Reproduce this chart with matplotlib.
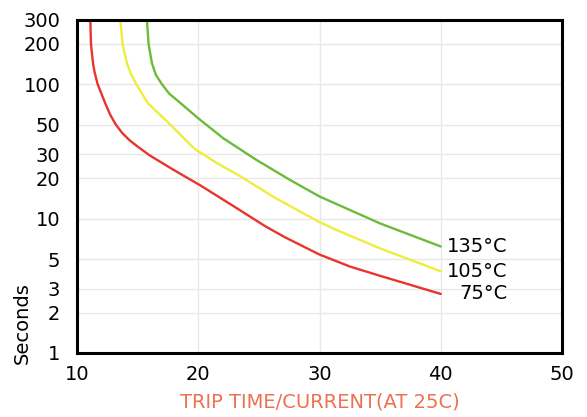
import matplotlib.pyplot as plt

# trip curves (x = current multiple, y = seconds)
red_x = [11.1, 11.15, 11.32, 11.45, 11.7, 12.33, 12.75, 13.2, 13.7, 14.3, 15.0, 16.0, 17.8, 19.3, 20.2,
         23.4, 25.5, 27.1, 30.0, 32.5, 35.0, 40.0]
red_y = [300, 200, 143, 123, 100, 72, 58.9, 50.1, 43.6, 38.5, 34.3, 29.5, 23.5, 19.6, 17.6,
         11.6, 8.8, 7.3, 5.4, 4.4, 3.75, 2.75]

yellow_x = [13.57, 13.76, 13.9, 14.12, 14.45, 14.89, 15.85, 17.7, 19.2, 19.8, 20.3, 21.5, 23.3, 26.2,
            30.0, 31.7, 35.0, 40.0]
yellow_y = [300, 200, 174, 143, 119, 100, 72, 50, 36.5, 32.5, 30.5, 26, 21.1, 14.5,
            9.4, 8.0, 6.0, 4.05]

green_x = [15.77, 15.9, 16.18, 16.5, 17.0, 17.6, 18.4, 20.0, 22.06, 24.8, 27.56, 30.0, 35.0, 40.0]
green_y = [300, 200, 143, 117.5, 100, 85, 74, 55.7, 39.6, 27.3, 19.4, 14.6, 9.2, 6.2]

labels = ['75°C', '105°C', '135°C']
y_ticks = [1, 2, 3, 5, 10, 20, 30, 50, 100, 200, 300]
x_ticks = [10, 20, 30, 40, 50]

fig = plt.figure(figsize=(5.87, 4.17), dpi=100)
ax = fig.add_axes([77 / 587, 1 - 353 / 417, (562 - 77) / 587, (353 - 20) / 417])

ax.plot(red_x, red_y, color='#e8352c', lw=1.7, solid_capstyle='round', solid_joinstyle='round')
ax.plot(yellow_x, yellow_y, color='#eeee3a', lw=1.7, solid_capstyle='round', solid_joinstyle='round')
ax.plot(green_x, green_y, color='#6cbb3a', lw=1.7, solid_capstyle='round', solid_joinstyle='round')

ax.set_yscale('log')
ax.set_xlim(10, 50)
ax.set_ylim(1, 300)
ax.set_yticks(y_ticks)
ax.set_yticklabels([str(t) for t in y_ticks])
ax.yaxis.set_minor_locator(plt.NullLocator())
ax.set_xticks(x_ticks)
ax.tick_params(length=0, labelsize=14)
ax.tick_params(axis='x', pad=9)
ax.tick_params(axis='y', pad=12)

ax.grid(True, color='#e8e8e8', lw=1)
ax.set_axisbelow(True)
for s in ax.spines.values():
    s.set_linewidth(2.2)
    s.set_color('black')

# curve labels at the right ends
ax.text(45.5, green_y[-1], labels[2], ha='right', va='center', fontsize=14)
ax.text(45.5, yellow_y[-1], labels[1], ha='right', va='center', fontsize=14)
ax.text(45.5, red_y[-1], labels[0], ha='right', va='center', fontsize=14)

ax.set_xlabel('TRIP TIME/CURRENT(AT 25C)', color='#ee7050', fontsize=14, labelpad=6)
fig.text(22 / 587, 1 - 323 / 417, 'Seconds', rotation=90, ha='center', va='center', fontsize=14)

plt.savefig('out.png')
